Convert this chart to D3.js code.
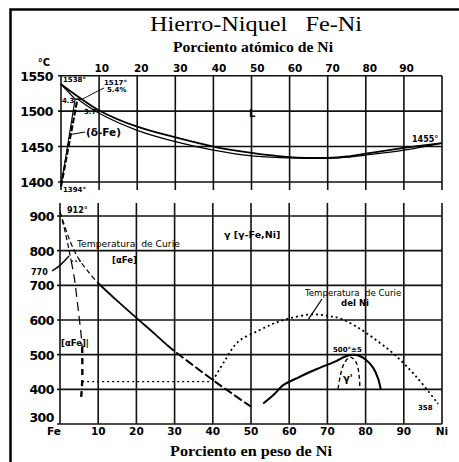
<!DOCTYPE html>
<html>
<head>
<meta charset="utf-8">
<script src="https://cdn.jsdelivr.net/npm/d3@7"></script>
<style>
  html, body { margin: 0; padding: 0; background: #fff; }
  svg { display: block; }
  .serif { font-family: "Liberation Serif", "DejaVu Serif", serif; }
  .tech { font-family: "DejaVu Sans", sans-serif; }
</style>
</head>
<body>
<svg id="chart" width="459" height="462"></svg>
<script>
// Fe-Ni phase diagram: weight % Ni on x, temperature (°C) on y.

// Axis ticks
const weightTicks = [0, 10, 20, 30, 40, 50, 60, 70, 80, 90, 100];
const weightTickLabels = ["Fe", "10", "20", "30", "40", "50", "60", "70", "80", "90", "Ni"];
const atomicTicks = [10, 20, 30, 40, 50, 60, 70, 80, 90];
const upperTempTicks = [1550, 1500, 1450, 1400];
const lowerTempTicks = [900, 800, 700, 600, 500, 400, 300];

// High-temperature region (wt % Ni, °C)
const liquidus = [[0,1538],[5.4,1517],[10,1501],[20,1478],[30,1463],[40,1450],[50,1441],[60,1435],[65,1434],[70,1434],[75,1436],[80,1440],[90,1448],[100,1455]];
const solidusGamma = [[4.3,1517],[10,1497],[20,1473],[30,1457],[40,1445],[50,1437],[60,1434],[65,1433.5],[70,1433.5],[75,1435],[80,1438],[90,1445],[100,1455]];
const solidusDelta = [[0,1538],[3.7,1517]];
const peritectic = [[3.7,1517],[5.4,1517]];
const deltaSolvus = [[0,1394],[3.7,1517]];
const gammaSolvus = [[0,1394],[4.3,1517]];

// Low-temperature region (wt % Ni, °C)
const alphaUpper = [[0,912],[1,870],[1.8,832],[2.4,800],[2.9,772]];
const alphaLowerA = [[2.9,772],[3.7,725],[4.4,665],[5.0,609],[5.5,560],[5.8,522]];
const alphaLowerB = [[5.8,522],[5.85,470],[5.8,420],[5.6,385],[5.4,365]];
const gammaBoundaryA = [[0,912],[1.5,862],[3,818],[5,775],[7.5,738],[10,706]];
const gammaBoundaryB = [[10,706],[15,655],[20,606],[25,558],[28,528]];
const gammaBoundaryC = [[28,528],[30,510],[35,468],[40,427],[45,388],[50,350]];
const curieAlpha = [[2.9,770],[6.1,770]];
const curieFlat = [[5.8,422],[40,422]];
const curieNi = [[40,425],[43,480],[46.6,537],[52.3,571],[56,590],[60.2,605],[65.8,616],[70,612],[73.2,605],[77.6,581],[82,548],[87.2,504],[93.3,436],[99,358]];
const orderingFeNi3 = [[53.2,359],[56,385],[58.4,412],[62,432],[65.4,450],[68,462],[72,480],[74.5,494],[76.5,500],[78.3,497],[80,486],[82,462],[83.3,430],[84,398]];
const gammaPrimeDome = [[72.8,402],[73.4,440],[74.4,475],[76,493],[77.6,476],[78.3,440],[78.5,402]];

// Atomic % -> weight % for the top scale
const M_FE = 55.85, M_NI = 58.69;
const atomicToWeight = a => 100 * a * M_NI / (a * M_NI + (100 - a) * M_FE);

const svg = d3.select("#chart");

// Frame
svg.append("rect").attr("x", 10.5).attr("y", 9.5).attr("width", 480).attr("height", 480)
  .attr("fill", "none").attr("stroke", "#000").attr("stroke-width", 2.5);

// Titles
svg.append("text").attr("class", "serif").attr("x", 256).attr("y", 31)
  .attr("text-anchor", "middle").attr("font-size", 20).style("white-space", "pre")
  .attr("textLength", 212).attr("lengthAdjust", "spacingAndGlyphs")
  .text("Hierro-Niquel   Fe-Ni");
svg.append("text").attr("class", "serif").attr("x", 253).attr("y", 52)
  .attr("text-anchor", "middle").attr("font-size", 14).attr("font-weight", "bold")
  .attr("textLength", 160).attr("lengthAdjust", "spacingAndGlyphs")
  .text("Porciento atómico de Ni");
svg.append("text").attr("class", "serif").attr("x", 251).attr("y", 456)
  .attr("text-anchor", "middle").attr("font-size", 14).attr("font-weight", "bold")
  .attr("textLength", 162).attr("lengthAdjust", "spacingAndGlyphs")
  .text("Porciento en peso de Ni");

// Scales
const xU = d3.scaleLinear().domain([0, 100]).range([61, 442]);
const yU = d3.scaleLinear().domain([1400, 1550]).range([182, 75.7]);
const xL = d3.scaleLinear().domain([0, 100]).range([60, 442]);
const yL = d3.scaleLinear().domain([300, 900]).range([424, 216]);

const gridStroke = "#111";

// ---- Upper panel grid
const gU = svg.append("g");
gU.selectAll("line.v").data(weightTicks).join("line")
  .attr("x1", d => xU(d)).attr("x2", d => xU(d))
  .attr("y1", yU(1550)).attr("y2", yU(1400) + 8)
  .attr("stroke", gridStroke).attr("stroke-width", 1.6);
gU.selectAll("line.h").data(upperTempTicks).join("line")
  .attr("x1", xU(0) - 3).attr("x2", xU(100))
  .attr("y1", d => yU(d)).attr("y2", d => yU(d))
  .attr("stroke", gridStroke).attr("stroke-width", 1.6);
gU.selectAll("text.yt").data(upperTempTicks).join("text")
  .attr("class", "tech").attr("x", 53).attr("y", d => yU(d) + 5)
  .attr("text-anchor", "end").attr("font-size", 12.5).attr("font-weight", "bold")
  .attr("letter-spacing", -0.5)
  .text(d => d);
svg.append("text").attr("class", "tech").attr("x", 44).attr("y", 66)
  .attr("text-anchor", "middle").attr("font-size", 10).attr("font-weight", "bold").text("°C");
gU.selectAll("text.at").data(atomicTicks).join("text")
  .attr("class", "tech").attr("x", d => xU(atomicToWeight(d)) + 1).attr("y", 72)
  .attr("text-anchor", "middle").attr("font-size", 10.5).attr("font-weight", "bold")
  .text(d => d);

// ---- Lower panel grid
const gL = svg.append("g");
gL.selectAll("line.v").data(weightTicks).join("line")
  .attr("x1", d => xL(d)).attr("x2", d => xL(d))
  .attr("y1", yL(900) - 13).attr("y2", yL(300))
  .attr("stroke", gridStroke).attr("stroke-width", 1.6);
gL.selectAll("line.h").data(lowerTempTicks).join("line")
  .attr("x1", xL(0) - 3).attr("x2", xL(100))
  .attr("y1", d => yL(d)).attr("y2", d => yL(d))
  .attr("stroke", gridStroke).attr("stroke-width", 1.6);
gL.selectAll("text.yt").data(lowerTempTicks).join("text")
  .attr("class", "tech").attr("x", 54).attr("y", d => yL(d) + (d === 300 ? -2 : 5))
  .attr("text-anchor", "end").attr("font-size", 12.5).attr("font-weight", "bold")
  .attr("letter-spacing", -0.5)
  .text(d => d);
gL.selectAll("text.xt").data(weightTicks).join("text")
  .attr("class", "tech").attr("x", d => xL(d) - (d === 0 ? 6 : 0)).attr("y", 435)
  .attr("text-anchor", "middle").attr("font-size", 10.5).attr("font-weight", "bold")
  .text((d, i) => weightTickLabels[i]);

// ---- Curves
function draw(scaleX, scaleY, data, opts) {
  const line = d3.line().x(d => scaleX(d[0])).y(d => scaleY(d[1]))
    .curve(opts.curve || d3.curveCatmullRom.alpha(0.5));
  svg.append("path").datum(data).attr("d", line)
    .attr("fill", "none").attr("stroke", "#000")
    .attr("stroke-width", opts.w || 1.8)
    .attr("stroke-dasharray", opts.dash || null)
    .attr("stroke-linecap", opts.cap || "butt");
}

// Upper panel
draw(xU, yU, liquidus, { w: 1.8 });
draw(xU, yU, solidusGamma, { w: 1.3 });
draw(xU, yU, solidusDelta, { w: 1.3 });
draw(xU, yU, peritectic, { w: 1.4 });
draw(xU, yU, deltaSolvus, { w: 1.1 });
draw(xU, yU, gammaSolvus, { w: 2.2, dash: "6,2" });

// Lower panel
draw(xL, yL, alphaUpper, { w: 1.2, dash: "5,3" });
draw(xL, yL, gammaBoundaryA, { w: 1.2, dash: "5,3" });
draw(xL, yL, gammaBoundaryB, { w: 1.8 });
draw(xL, yL, gammaBoundaryC, { w: 2, dash: "9,3" });
draw(xL, yL, alphaLowerA, { w: 1.2, dash: "9,5" });
draw(xL, yL, alphaLowerB, { w: 2.4, dash: "6,5" });
draw(xL, yL, curieAlpha, { w: 1.2, dash: "2,2" });
draw(xL, yL, curieFlat, { w: 1.3, dash: "2,3" });
draw(xL, yL, curieNi, { w: 1.8, dash: "2,3" });
draw(xL, yL, orderingFeNi3, { w: 2 });
draw(xL, yL, gammaPrimeDome, { w: 1.4, dash: "4,3" });

// ---- Annotations
function label(x, y, txt, size, opts = {}) {
  svg.append("text").attr("class", "tech").attr("x", x).attr("y", y)
    .attr("font-size", size).attr("font-weight", opts.bold ? "bold" : "normal")
    .attr("text-anchor", opts.anchor || "start").style("white-space", "pre")
    .text(txt);
}
function leader(points, w = 1) {
  svg.append("path").attr("d", d3.line().curve(d3.curveBasis)(points))
    .attr("fill", "none").attr("stroke", "#000").attr("stroke-width", w);
}

// upper panel labels
label(63, 82, "1538°", 7, { bold: true });
label(104, 85, "1517°", 7, { bold: true });
label(107, 92, "5.4%", 7, { bold: true });
leader([[104, 88], [92, 94], [xU(5.4) + 1, yU(1517)]]);
label(62, 103, "4.3", 7, { bold: true });
label(84, 114, "3.7", 7, { bold: true });
label(86, 136, "(δ-Fe)", 10.5, { bold: true });
leader([[85, 132], [xU(2.2) + 1, yU(1467)]]);
label(63, 192, "1394°", 7, { bold: true });
label(412, 142, "1455°", 8, { bold: true });
label(249, 117, "L", 10, { bold: true });

// lower panel labels
label(67, 213, "912°", 8, { bold: true });
label(77, 247, "Temperatura  de Curie", 9.2);
label(112, 263, "[αFe]", 8.5, { bold: true });
label(31, 275, "770", 8, { bold: true });
leader([[52, 271], [60, 266], [xL(2.4), yL(785)]], 1.4);
label(61, 346, "[αFe]|", 8.5, { bold: true });
label(224, 238, "γ [γ-Fe,Ni]", 9.5, { bold: true });
label(305, 296, "Temperatura  de Curie", 8.6);
label(341, 306, "del Ni", 8.6, { bold: true });
leader([[322, 299], [xL(65), yL(602)]], 1.2);
label(333, 352, "500°±5", 7, { bold: true });
label(343, 382, "γ'", 10, { bold: true });
label(418, 410, "358", 7, { bold: true });
</script>
</body>
</html>
